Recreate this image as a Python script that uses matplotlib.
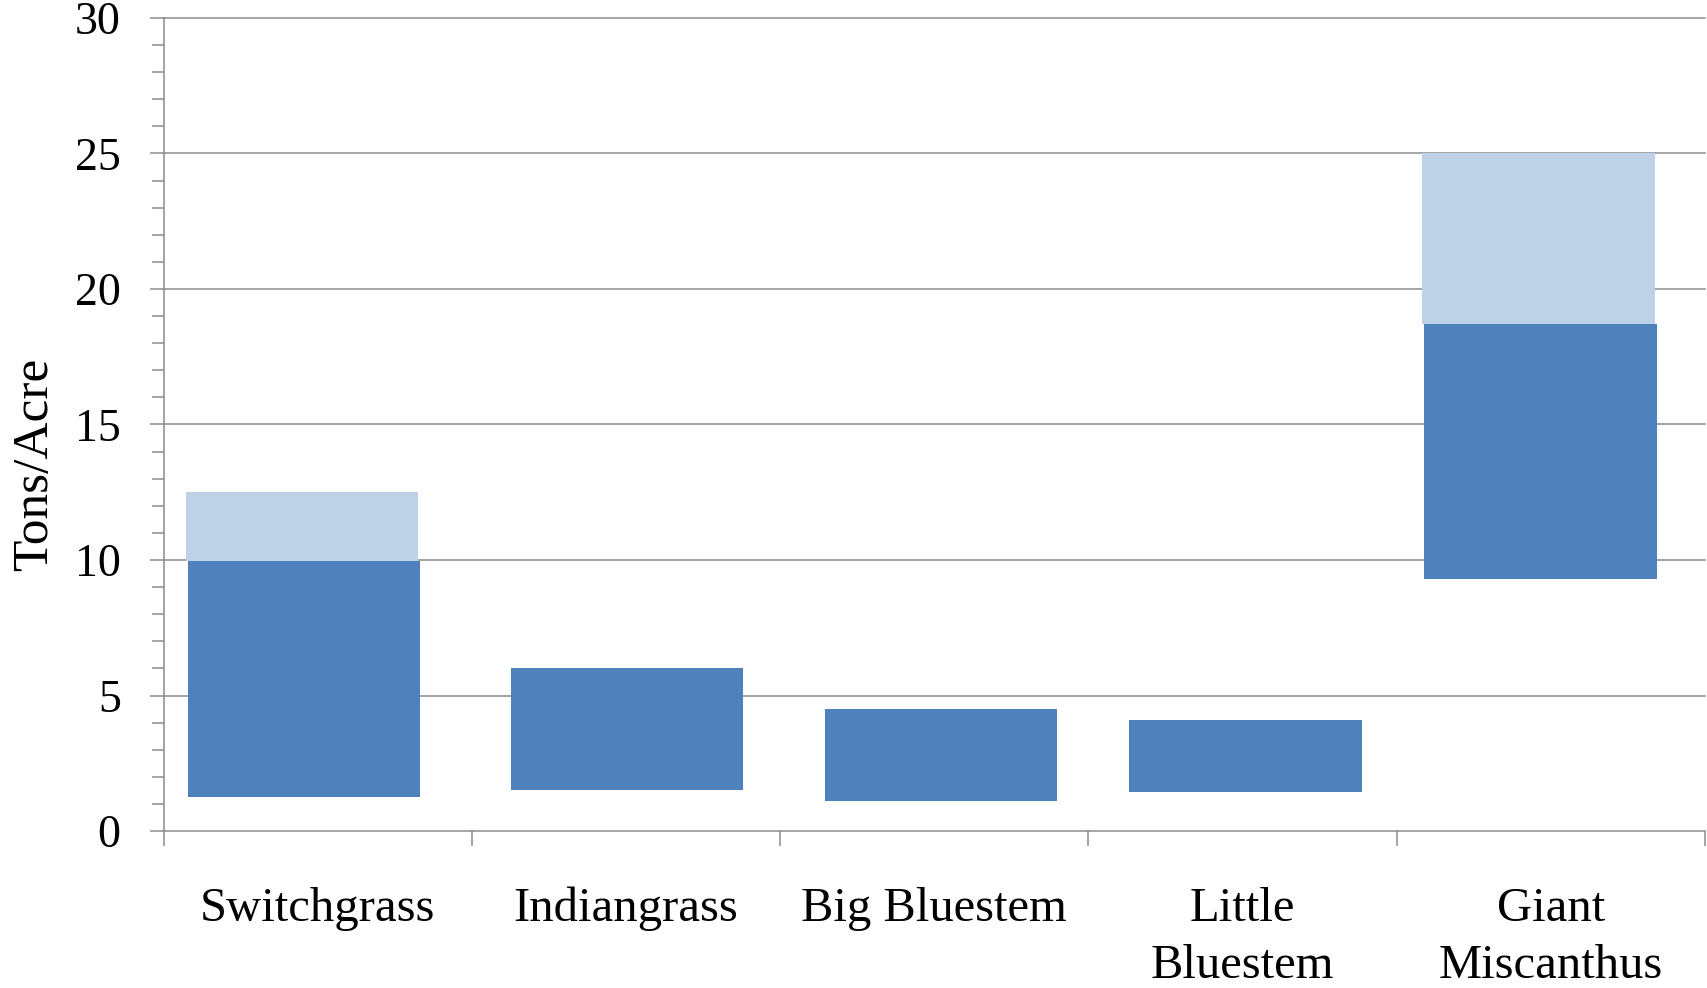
import matplotlib
matplotlib.use("Agg")
import matplotlib.pyplot as plt
import numpy as np

# Yield ranges (tons/acre) for each grass
categories = ["Switchgrass", "Indiangrass", "Big Bluestem", "Little\nBluestem", "Giant\nMiscanthus"]
low = [1.25, 1.5, 1.1, 1.45, 9.3]        # bottom of typical range
typical_high = [9.95, 6.0, 4.5, 4.1, 18.7]  # top of typical range
max_high = [12.5, 6.0, 4.5, 4.1, 25.0]    # top of reported maximum range

y_ticks = [0, 5, 10, 15, 20, 25, 30]

DARK = "#4F81BD"
LIGHT = "#BFD1E6"
GRID = "#8C8C8C"
FONT = "Liberation Serif"

# small horizontal shifts of the bars within their category slots
shift = [-0.045, 0.003, 0.022, 0.009, -0.034]

fig = plt.figure(figsize=(17.07, 9.88), dpi=100)
ax = fig.add_axes([0.0959, 0.1589, 0.9029, 0.8229])

n = len(categories)
x = np.arange(n) + 0.5 + np.array(shift)
width = 0.755

low_a = np.array(low)
mid_a = np.array(typical_high)
high_a = np.array(max_high)

ax.bar(x, mid_a - low_a, bottom=low_a, width=width, color=DARK, zorder=3, linewidth=0)
has_ext = high_a > mid_a
ax.bar(x[has_ext] - 0.006, (high_a - mid_a)[has_ext], bottom=mid_a[has_ext],
       width=width, color=LIGHT, zorder=3, linewidth=0)

ax.set_xlim(0, n)
ax.set_ylim(0, 30)

# horizontal gridlines at major ticks
for yv in y_ticks:
    ax.axhline(yv, color=GRID, lw=1.1, zorder=1, clip_on=False)

for s in ["top", "right", "bottom"]:
    ax.spines[s].set_visible(False)
ax.spines["left"].set_color(GRID)
ax.spines["left"].set_linewidth(1.1)

# y axis ticks
ax.set_yticks(y_ticks)
ax.set_yticklabels([str(v) for v in y_ticks], fontfamily=FONT, fontsize=33)
ax.set_yticks(np.arange(0, 31, 1), minor=True)
ax.tick_params(axis="y", which="major", length=10, width=1.1, color=GRID, pad=21)
ax.tick_params(axis="y", which="minor", length=9, width=1.1, color=GRID)

# x axis: boundary ticks, labels at category centres
ax.set_xticks(np.arange(0, n + 1))
ax.set_xticklabels([])
ax.set_xticks(np.arange(n) + 0.5, minor=True)
ax.set_xticklabels(categories, minor=True, fontfamily=FONT, fontsize=35, linespacing=1.4,
                   va="top")
ax.tick_params(axis="x", which="major", length=11, width=1.1, color=GRID, direction="out")
ax.tick_params(axis="x", which="minor", length=0, pad=40)

fig.text(35 / 1707, 1 - 464 / 988, "Tons/Acre", rotation=90, ha="center", va="center",
         fontfamily=FONT, fontsize=37)

fig.savefig("out.png", dpi=100, facecolor="white")
